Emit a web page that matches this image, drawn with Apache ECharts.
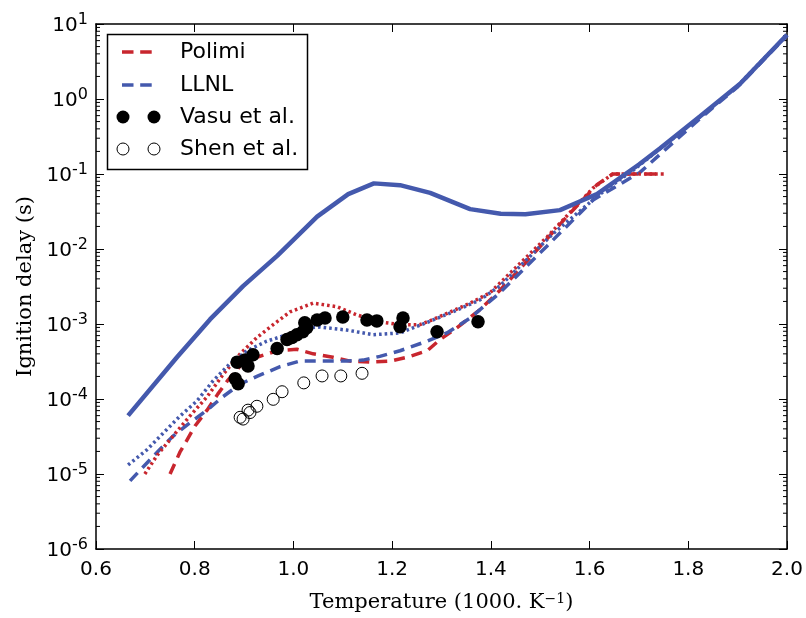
<!DOCTYPE html>
<html>
<head>
<meta charset="utf-8">
<script src="https://cdn.jsdelivr.net/npm/echarts@6/dist/echarts.min.js"></script>
<style>html,body{margin:0;padding:0;background:#fff;}#c{width:806px;height:618px;}</style>
</head>
<body>
<div id="c"></div>
<script>
// x: 1000/T (1000 K^-1), y: ignition delay (s)
const xTicks = [0.6, 0.8, 1.0, 1.2, 1.4, 1.6, 1.8, 2.0];
const yMin = 1e-6, yMax = 10;
const minorTickValues = [];
for (let e = -6; e < 1; e++) { for (let m = 2; m <= 9; m++) minorTickValues.push(m * Math.pow(10, e)); }

const llnlSolid = [[0.665,6.0e-5],[0.764,3.6e-4],[0.831,1.15e-3],[0.898,3.2e-3],[0.967,8.1e-3],[1.048,2.7e-2],[1.111,5.4e-2],[1.163,7.5e-2],[1.216,7.1e-2],[1.277,5.6e-2],[1.358,3.4e-2],[1.42,2.95e-2],[1.47,2.9e-2],[1.54,3.3e-2],[1.58,4.3e-2],[1.615,5.4e-2],[1.70,0.134],[1.743,0.22],[1.824,0.59],[1.905,1.6],[2.0,7.2]];

const polimiDashed = [[0.750,1.0e-5],[0.770,1.95e-5],[0.801,4.4e-5],[0.825,7.1e-5],[0.847,1.17e-4],[0.866,1.74e-4],[0.892,2.75e-4],[0.926,3.6e-4],[0.967,4.4e-4],[1.007,4.6e-4],[1.040,4.0e-4],[1.080,3.6e-4],[1.115,3.2e-4],[1.155,3.1e-4],[1.196,3.2e-4],[1.230,3.6e-4],[1.271,4.4e-4],[1.297,6.2e-4],[1.331,8.9e-4],[1.378,1.55e-3],[1.418,2.8e-3],[1.465,6.0e-3],[1.554,2.7e-2],[1.615,7.2e-2],[1.647,0.1],[1.75,0.1]];

const polimiDotted = [[0.699,1.0e-5],[0.724,1.78e-5],[0.756,3.2e-5],[0.790,5.9e-5],[0.825,1.07e-4],[0.857,2.1e-4],[0.892,4.0e-4],[0.926,6.6e-4],[0.959,9.8e-4],[0.993,1.45e-3],[1.040,1.9e-3],[1.088,1.7e-3],[1.129,1.32e-3],[1.175,1.07e-3],[1.216,9.8e-4],[1.256,9.8e-4],[1.283,1.15e-3],[1.323,1.5e-3],[1.358,1.9e-3],[1.398,2.6e-3],[1.514,1.45e-2],[1.607,6.5e-2],[1.647,0.1],[1.75,0.1]];

const llnlDashed = [[0.669,8.1e-6],[0.689,1.12e-5],[0.724,1.95e-5],[0.756,3.2e-5],[0.790,4.8e-5],[0.825,7.1e-5],[0.857,1.07e-4],[0.892,1.58e-4],[0.926,2.0e-4],[0.973,2.7e-4],[1.013,3.2e-4],[1.108,3.2e-4],[1.141,3.3e-4],[1.175,3.7e-4],[1.216,4.4e-4],[1.271,5.9e-4],[1.311,7.6e-4],[1.358,1.2e-3],[1.418,2.6e-3],[1.514,1.1e-2],[1.607,4.5e-2],[1.702,0.105],[1.824,0.55],[1.9,1.45],[2.0,7.0]];

const llnlDotted = [[0.665,1.32e-5],[0.703,2.1e-5],[0.736,3.5e-5],[0.770,5.9e-5],[0.805,9.5e-5],[0.837,1.74e-4],[0.871,2.95e-4],[0.906,4.4e-4],[0.946,5.9e-4],[0.987,7.2e-4],[1.027,8.9e-4],[1.054,9.1e-4],[1.108,8.3e-4],[1.161,7.2e-4],[1.216,7.6e-4],[1.271,1.05e-3],[1.323,1.45e-3],[1.378,2.1e-3],[1.418,3.2e-3],[1.526,1.6e-2],[1.621,5.4e-2],[1.688,0.112],[1.824,0.58],[1.9,1.5],[2.0,7.2]];

const vasu = [[0.882,1.86e-4],[0.888,1.6e-4],[0.886,3.1e-4],[0.902,3.3e-4],[0.908,2.75e-4],[0.918,3.9e-4],[0.967,4.7e-4],[0.987,6.2e-4],[0.997,6.6e-4],[1.007,7.2e-4],[1.019,7.9e-4],[1.027,8.9e-4],[1.023,1.04e-3],[1.048,1.13e-3],[1.064,1.2e-3],[1.100,1.24e-3],[1.149,1.13e-3],[1.169,1.1e-3],[1.216,9.2e-4],[1.222,1.2e-3],[1.291,7.9e-4],[1.374,1.07e-3]];

const shen = [[0.892,5.7e-5],[0.898,5.4e-5],[0.908,7.1e-5],[0.912,6.6e-5],[0.926,8.0e-5],[0.959,9.9e-5],[0.977,1.25e-4],[1.021,1.64e-4],[1.058,2.03e-4],[1.096,2.03e-4],[1.139,2.2e-4]];

const legendLabels = ['Polimi', 'LLNL', 'Vasu et al.', 'Shen et al.'];

const RED = '#c8262e', BLUE = '#4459ad';
const DASH = [11, 7], DOT = [2.6, 3.0];

const chart = echarts.init(document.getElementById('c'), null, {renderer: 'canvas'});

function lineSeries(name, data, color, type, width, z) {
  return {name, type: 'line', data, symbol: 'none', smooth: false, z,
    lineStyle: {color, width, type, cap: 'butt', opacity: 1}, animation: false, clip: true};
}

const tickFont = 'DejaVu Sans';
const serif = 'DejaVu Serif';

const option = {
  animation: false,
  backgroundColor: '#fff',
  grid: {left: 96, right: 19, top: 24, bottom: 60, containLabel: false},
  xAxis: [{
    type: 'value', min: 0.6, max: 2.0, interval: 0.2, position: 'bottom',
    name: 'Temperature (1000. K{sup|\u22121})', nameLocation: 'middle', nameGap: 43,
    nameTextStyle: {fontFamily: serif, fontSize: 21, color: '#000',
      rich: {sup: {fontFamily: serif, fontSize: 14, verticalAlign: 'top', lineHeight: 12}}},
    axisLine: {show: true, lineStyle: {color: '#000', width: 1.5}},
    axisTick: {show: true, inside: true, length: 8, lineStyle: {color: '#000', width: 1}},
    axisLabel: {fontFamily: tickFont, fontSize: 20, color: '#000', margin: 11,
      formatter: v => v.toFixed(1)},
    splitLine: {show: false}
  }, {
    type: 'value', min: 0.6, max: 2.0, interval: 0.2, position: 'top',
    axisLine: {show: true, lineStyle: {color: '#000', width: 1.5}},
    axisTick: {show: true, inside: true, length: 8, lineStyle: {color: '#000', width: 1}},
    axisLabel: {show: false}, splitLine: {show: false}
  }],
  yAxis: [{
    type: 'log', logBase: 10, min: yMin, max: yMax, position: 'left',
    name: 'Ignition delay (s)', nameLocation: 'middle', nameGap: 60, nameRotate: 90,
    nameTextStyle: {fontFamily: serif, fontSize: 21, color: '#000'},
    axisLine: {show: true, lineStyle: {color: '#000', width: 1.5}},
    axisTick: {show: true, inside: true, length: 8, lineStyle: {color: '#000', width: 1}},
    axisLabel: {margin: 8, color: '#000',
      formatter: v => '{b|10}{s|' + Math.round(Math.log10(v)) + '}',
      rich: {
        b: {fontFamily: tickFont, fontSize: 20, lineHeight: 24, verticalAlign: 'bottom', color: '#000'},
        s: {fontFamily: tickFont, fontSize: 16, lineHeight: 14, verticalAlign: 'top', color: '#000'}
      }},
    splitLine: {show: false}
  }, {
    type: 'log', logBase: 10, min: yMin, max: yMax, position: 'right',
    axisLine: {show: true, lineStyle: {color: '#000', width: 1.5}},
    axisTick: {show: true, inside: true, length: 8, lineStyle: {color: '#000', width: 1}},
    axisLabel: {show: false}, splitLine: {show: false}
  }],
  series: [
    {
      type: 'custom', name: 'minorTicks', silent: true, z: 1, clip: false,
      data: minorTickValues.map(v => [0.6, v]),
      renderItem: function (params, api) {
        const v = api.value(1);
        const pL = api.coord([0.6, v]);
        const pR = api.coord([2.0, v]);
        const st = {stroke: '#000', lineWidth: 1};
        return {type: 'group', children: [
          {type: 'line', shape: {x1: pL[0], y1: pL[1], x2: pL[0] + 4, y2: pL[1]}, style: st},
          {type: 'line', shape: {x1: pR[0] - 4, y1: pR[1], x2: pR[0], y2: pR[1]}, style: st}
        ]};
      }
    },
    lineSeries('Polimi', polimiDashed, RED, DASH, 3.5, 3),
    lineSeries('LLNL', llnlDashed, BLUE, DASH, 3.5, 3),
    lineSeries('Polimi dotted', polimiDotted, RED, DOT, 3.5, 3),
    lineSeries('LLNL dotted', llnlDotted, BLUE, DOT, 3.5, 3),
    lineSeries('LLNL solid', llnlSolid, BLUE, 'solid', 4.5, 4),
    {name: 'Vasu et al.', type: 'scatter', data: vasu, symbol: 'circle', symbolSize: 13.5, z: 6,
      itemStyle: {color: '#000', opacity: 1}},
    {name: 'Shen et al.', type: 'scatter', data: shen, symbol: 'circle', symbolSize: 12, z: 6,
      itemStyle: {color: 'rgba(0,0,0,0)', borderColor: '#000', borderWidth: 1, opacity: 1}}
  ],
  graphic: [
    {type: 'rect', z: 100, shape: {x: 107.5, y: 34.5, width: 200, height: 135},
      style: {fill: '#fff', stroke: '#000', lineWidth: 1.5}},
    {type: 'line', z: 101, shape: {x1: 122, y1: 52, x2: 152, y2: 52},
      style: {stroke: RED, lineWidth: 3.5, lineDash: [11.5, 6.7]}},
    {type: 'line', z: 101, shape: {x1: 122, y1: 85, x2: 152, y2: 85},
      style: {stroke: BLUE, lineWidth: 3.5, lineDash: [11.5, 6.7]}},
    {type: 'circle', z: 101, shape: {cx: 123, cy: 117, r: 6.5}, style: {fill: '#000'}},
    {type: 'circle', z: 101, shape: {cx: 154, cy: 117, r: 6.5}, style: {fill: '#000'}},
    {type: 'circle', z: 101, shape: {cx: 123, cy: 149, r: 6}, style: {fill: 'none', stroke: '#000', lineWidth: 1}},
    {type: 'circle', z: 101, shape: {cx: 154, cy: 149, r: 6}, style: {fill: 'none', stroke: '#000', lineWidth: 1}},
    {type: 'text', z: 101, x: 180, y: 52, style: {text: legendLabels[0], font: '22px "DejaVu Sans"', fill: '#000', verticalAlign: 'middle'}},
    {type: 'text', z: 101, x: 180, y: 85, style: {text: legendLabels[1], font: '22px "DejaVu Sans"', fill: '#000', verticalAlign: 'middle'}},
    {type: 'text', z: 101, x: 180, y: 117, style: {text: legendLabels[2], font: '22px "DejaVu Sans"', fill: '#000', verticalAlign: 'middle'}},
    {type: 'text', z: 101, x: 180, y: 149, style: {text: legendLabels[3], font: '22px "DejaVu Sans"', fill: '#000', verticalAlign: 'middle'}}
  ]
};
chart.setOption(option);
</script>
</body>
</html>
